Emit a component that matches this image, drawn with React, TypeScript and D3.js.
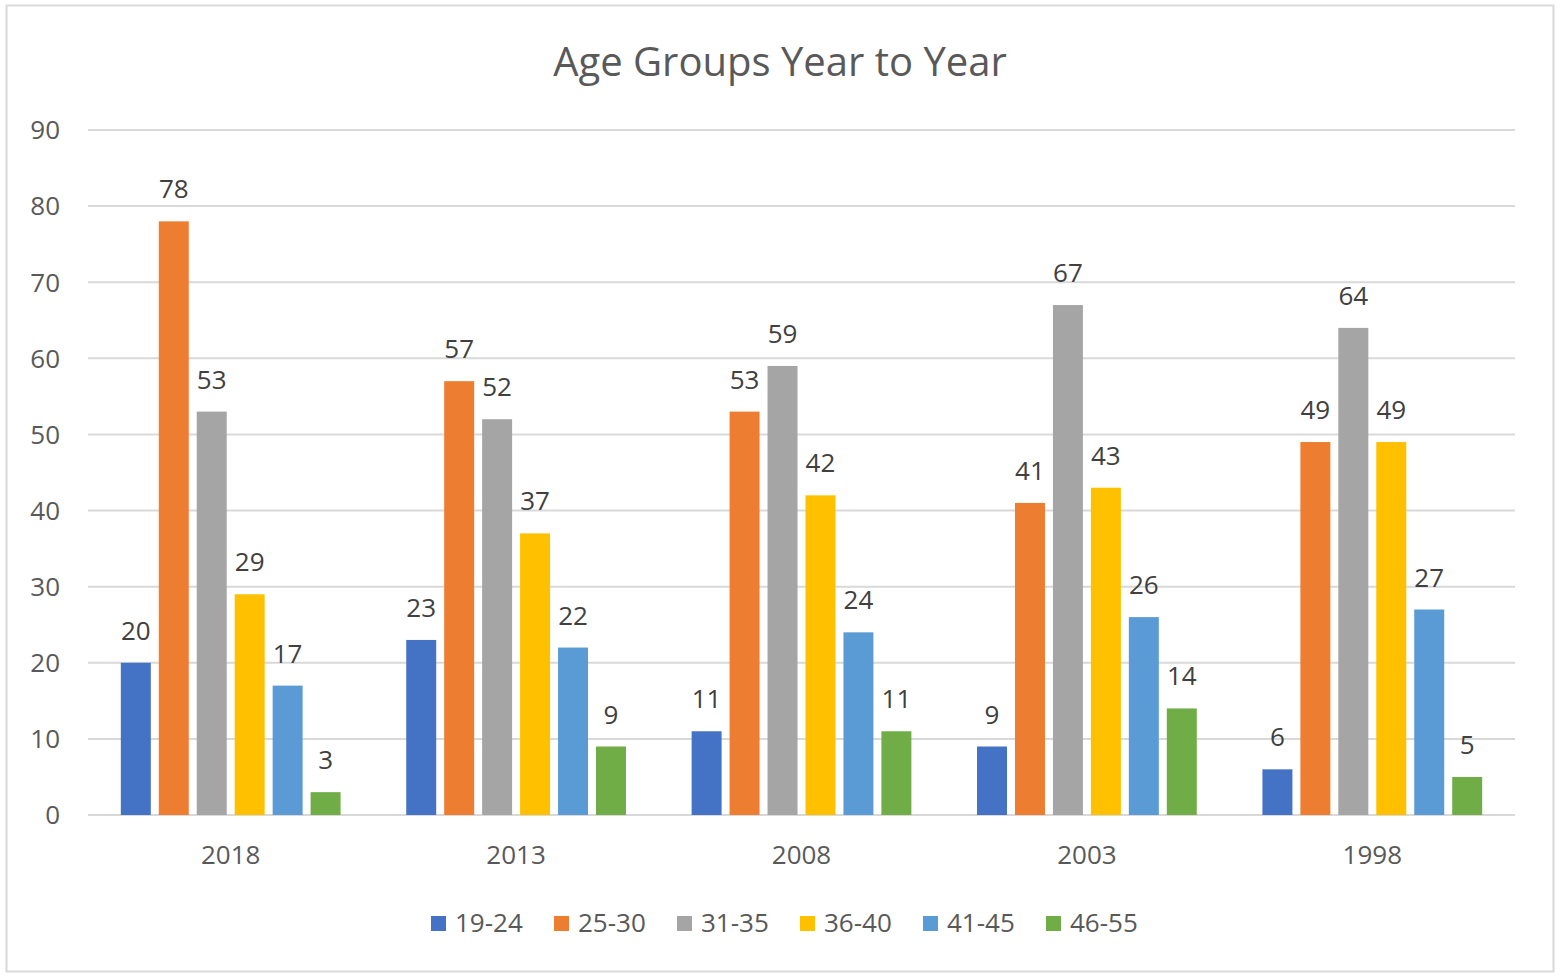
import React, { useEffect, useRef } from 'react';
import * as d3 from 'd3';

const years = ['2018', '2013', '2008', '2003', '1998'];
const groups = ['19-24', '25-30', '31-35', '36-40', '41-45', '46-55'];
const colors = ['#4472C4', '#ED7D31', '#A5A5A5', '#FFC000', '#5B9BD5', '#70AD47'];

// one row per year, one value per age group
const values = [
    [20, 78, 53, 29, 17, 3],
    [23, 57, 52, 37, 22, 9],
    [11, 53, 59, 42, 24, 11],
    [9, 41, 67, 43, 26, 14],
    [6, 49, 64, 49, 27, 5],
];
const yTicks = [0, 10, 20, 30, 40, 50, 60, 70, 80, 90];

const W = 1561;
const H = 978;
const FONT = '"Open Sans", "Noto Sans", sans-serif';
const TEXT = '#595959';

const App = () => {
    const svgRef = useRef(null);

    useEffect(() => {
        if (!svgRef.current) return;
        const svg = d3.select(svgRef.current);
        svg.selectAll('*').remove();

        const margin = { top: 130, right: 46, bottom: 163, left: 88 };
        const width = W - margin.left - margin.right;
        const height = H - margin.top - margin.bottom;

        // chart border
        svg.append('rect')
            .attr('x', 6.5).attr('y', 5.5)
            .attr('width', 1547).attr('height', 966)
            .attr('fill', '#fff')
            .attr('stroke', '#D9D9D9')
            .attr('stroke-width', 2);

        // title
        svg.append('text')
            .attr('x', 780).attr('y', 76)
            .attr('text-anchor', 'middle')
            .attr('font-family', FONT)
            .attr('font-size', '40px')
            .attr('fill', TEXT)
            .text('Age Groups Year to Year');

        const g = svg.append('g').attr('transform', `translate(${margin.left},${margin.top})`);

        const x0 = d3.scaleBand().domain(years).range([0, width]).paddingInner(0.23).paddingOuter(0.115);
        const x1 = d3.scaleBand().domain(groups).range([0, x0.bandwidth()]).paddingInner(0.21);
        const y = d3.scaleLinear().domain([0, 90]).range([height, 0]);

        // grid
        g.append('g')
            .selectAll('line')
            .data(yTicks)
            .join('line')
            .attr('x1', 0).attr('x2', width)
            .attr('y1', d => y(d)).attr('y2', d => y(d))
            .attr('stroke', '#D9D9D9')
            .attr('stroke-width', 2);

        // y tick labels
        g.append('g')
            .selectAll('text')
            .data(yTicks)
            .join('text')
            .attr('x', -28)
            .attr('y', d => y(d))
            .attr('dy', '0.36em')
            .attr('text-anchor', 'end')
            .attr('font-family', FONT)
            .attr('font-size', '26px')
            .attr('fill', TEXT)
            .text(d => d);

        // x tick labels
        g.append('g')
            .selectAll('text')
            .data(years)
            .join('text')
            .attr('x', d => x0(d)! + x0.bandwidth() / 2)
            .attr('y', height + 49)
            .attr('text-anchor', 'middle')
            .attr('font-family', FONT)
            .attr('font-size', '26px')
            .attr('fill', TEXT)
            .text(d => d);

        // bars
        years.forEach((yr, i) => {
            const grp = g.append('g').attr('transform', `translate(${x0(yr)},0)`);
            groups.forEach((ag, j) => {
                const v = values[i][j];
                grp.append('rect')
                    .attr('x', x1(ag)!)
                    .attr('y', y(v))
                    .attr('width', x1.bandwidth())
                    .attr('height', height - y(v))
                    .attr('fill', colors[j]);
                grp.append('text')
                    .attr('x', x1(ag)! + x1.bandwidth() / 2)
                    .attr('y', y(v) - 23)
                    .attr('text-anchor', 'middle')
                    .attr('font-family', FONT)
                    .attr('font-size', '26px')
                    .attr('fill', '#404040')
                    .text(v);
            });
        });

        // legend
        const legendX = d3.scalePoint().domain(groups).range([431, 1046]);
        const lg = svg.append('g');
        groups.forEach((ag, j) => {
            lg.append('rect')
                .attr('x', legendX(ag)!).attr('y', 916)
                .attr('width', 15).attr('height', 15)
                .attr('fill', colors[j]);
            lg.append('text')
                .attr('x', legendX(ag)! + 24).attr('y', 932)
                .attr('font-family', FONT)
                .attr('font-size', '26px')
                .attr('fill', TEXT)
                .text(ag);
        });
    }, []);

    return (
        <svg
            ref={svgRef}
            width={W}
            height={H}
            style={{ position: 'absolute', left: 0, top: 0, background: '#fff' }}
        />
    );
};

export default App;
